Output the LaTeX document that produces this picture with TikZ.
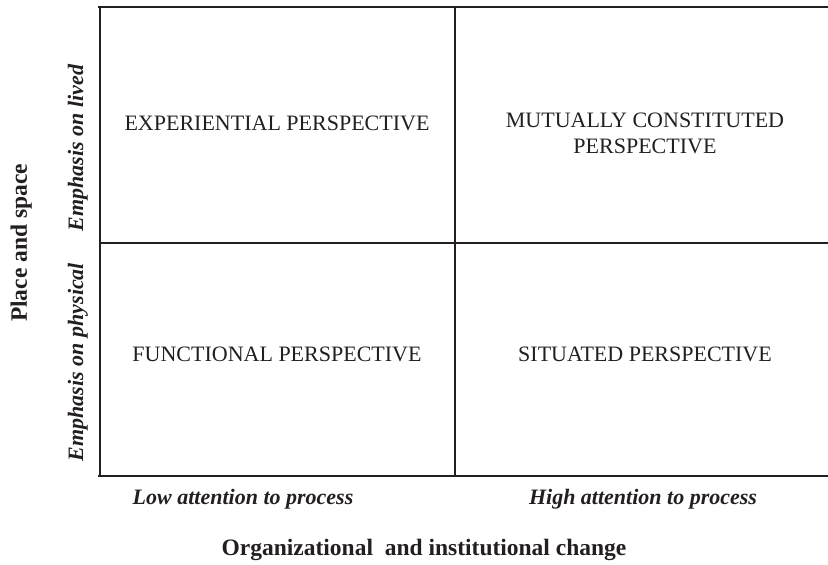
\documentclass[tikz,border=0pt]{standalone}
\usepackage{fontspec}
\setmainfont{Liberation Serif}
\definecolor{ink}{HTML}{231F20}
\begin{document}
\begin{tikzpicture}[x=1pt,y=-1pt,
  heavyrule/.style={draw=ink,line width=2.6pt},
  lightrule/.style={draw=ink,line width=1.4pt},
  quad/.style={text=ink,font=\fontsize{22}{26}\selectfont,align=center,anchor=base,inner sep=0pt},
  axislab/.style={text=ink,font=\fontsize{22}{26}\selectfont\bfseries\itshape,anchor=base,inner sep=0pt},
  maintitle/.style={text=ink,font=\fontsize{23.5}{28}\selectfont\bfseries,anchor=base,inner sep=0pt}]
\useasboundingbox (0,0) rectangle (828,565);
% frame coordinates
\coordinate (tl) at (98,7);
\coordinate (tr) at (828,7);
\coordinate (bl) at (98,476);
\coordinate (br) at (828,476);
\coordinate (lt) at (100,7);
\coordinate (lb) at (100,476);
\coordinate (mt) at (455,7);
\coordinate (mb) at (455,476);
\coordinate (ml) at (100,243);
\coordinate (mr) at (828,243);
% rules
\draw[lightrule] (lt) -- (lb);
\draw[lightrule] (mt) -- (mb);
\draw[lightrule] (ml) -- (mr);
\draw[heavyrule] (tl) -- (tr);
\draw[heavyrule] (bl) -- (br);
% quadrant labels
\node[quad] (exp) at (277,130) {EXPERIENTIAL PERSPECTIVE};
\node[quad] (mut1) at (645,127) {MUTUALLY CONSTITUTED};
\node[quad] (mut2) at (645,153) {PERSPECTIVE};
\node[quad] (fun) at (277,361) {FUNCTIONAL PERSPECTIVE};
\node[quad] (sit) at (645,361) {SITUATED PERSPECTIVE};
% axis labels
\node[axislab] (low) at (243,504) {Low attention to process};
\node[axislab] (high) at (643,504) {High attention to process};
\node[maintitle] (org) at (424,555) {Organizational~ and institutional change};
\node[axislab,rotate=90] (lived) at (83,148) {Emphasis on lived};
\node[axislab,rotate=90] (phys) at (83,362) {Emphasis on physical};
\node[maintitle,rotate=90] (place) at (27,243) {Place and space};
\end{tikzpicture}
\end{document}
